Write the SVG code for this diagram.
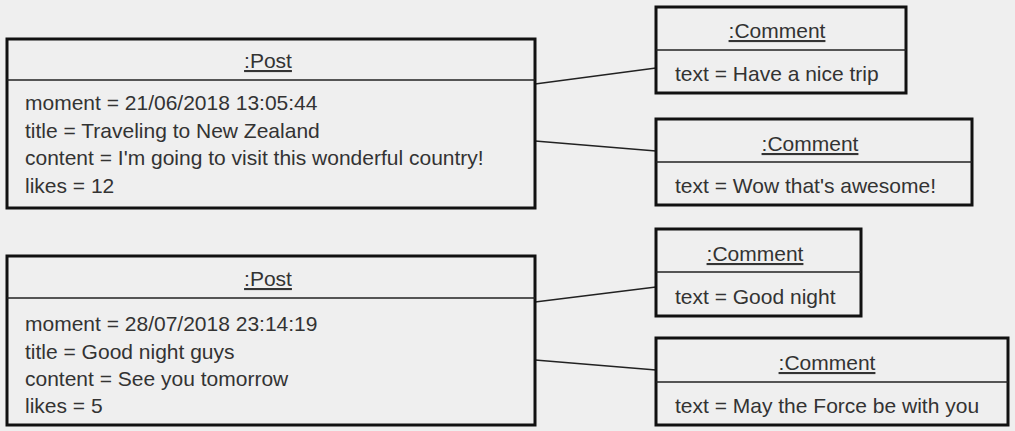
<svg xmlns="http://www.w3.org/2000/svg" width="1015" height="431" viewBox="0 0 1015 431">
<style>
.bg{fill:#efefef}
.box{fill:#efefef;stroke:#111;stroke-width:3}
.sep{stroke:#222;stroke-width:1.5}
.t{font-family:"Liberation Sans",Arial,sans-serif;font-size:21px;fill:#333}
.h{text-anchor:middle;text-decoration:underline}
.c{stroke:#222;stroke-width:1.5;fill:none}
</style>
<rect class="bg" x="0" y="0" width="1015" height="431"/>
<g id="connectors">
<line class="c" x1="535" y1="84" x2="656" y2="68"/>
<line class="c" x1="535" y1="141" x2="656" y2="151"/>
<line class="c" x1="535" y1="302" x2="656" y2="287"/>
<line class="c" x1="535" y1="360" x2="656" y2="370"/>
</g>
<g id="post1">
<rect class="box" x="7" y="39" width="528" height="169"/>
<line class="sep" x1="7" y1="80" x2="535" y2="80"/>
<text class="t h" x="268" y="68">:Post</text>
<text class="t" x="25" y="110">moment = 21/06/2018 13:05:44</text>
<text class="t" x="25" y="138">title = Traveling to New Zealand</text>
<text class="t" x="25" y="165">content = I'm going to visit this wonderful country!</text>
<text class="t" x="25" y="193">likes = 12</text>
</g>
<g id="post2">
<rect class="box" x="7" y="256" width="528" height="169"/>
<line class="sep" x1="7" y1="298" x2="535" y2="298"/>
<text class="t h" x="268" y="286">:Post</text>
<text class="t" x="25" y="331">moment = 28/07/2018 23:14:19</text>
<text class="t" x="25" y="359">title = Good night guys</text>
<text class="t" x="25" y="386">content = See you tomorrow</text>
<text class="t" x="25" y="413">likes = 5</text>
</g>
<g id="comment1">
<rect class="box" x="656" y="7" width="250" height="86"/>
<line class="sep" x1="656" y1="50" x2="906" y2="50"/>
<text class="t h" x="777" y="38">:Comment</text>
<text class="t" x="675" y="81">text = Have a nice trip</text>
</g>
<g id="comment2">
<rect class="box" x="656" y="119" width="316" height="86"/>
<line class="sep" x1="656" y1="162" x2="972" y2="162"/>
<text class="t h" x="810" y="151">:Comment</text>
<text class="t" x="675" y="193">text = Wow that's awesome!</text>
</g>
<g id="comment3">
<rect class="box" x="656" y="229" width="205" height="87"/>
<line class="sep" x1="656" y1="272" x2="861" y2="272"/>
<text class="t h" x="755" y="261">:Comment</text>
<text class="t" x="675" y="304">text = Good night</text>
</g>
<g id="comment4">
<rect class="box" x="656" y="338" width="352" height="87"/>
<line class="sep" x1="656" y1="382" x2="1008" y2="382"/>
<text class="t h" x="827" y="370">:Comment</text>
<text class="t" x="675" y="413">text = May the Force be with you</text>
</g>
</svg>
